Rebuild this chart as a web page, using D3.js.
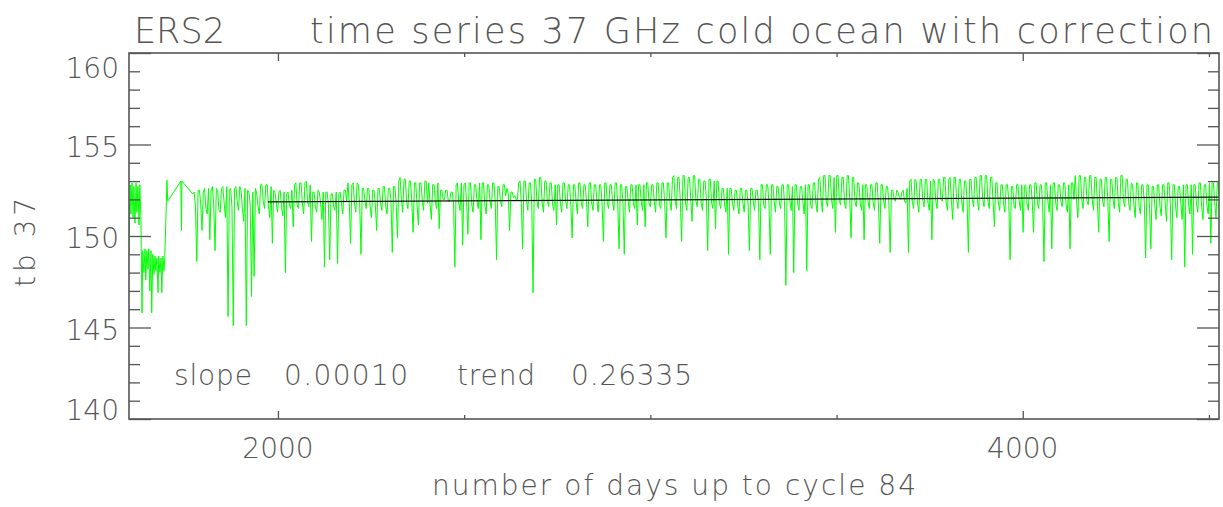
<!DOCTYPE html>
<html><head><meta charset="utf-8">
<script src="https://cdn.jsdelivr.net/npm/d3@7"></script>
<style>
html,body{margin:0;padding:0;background:#fff;}
svg{display:block;}
text{font-family:"DejaVu Sans",sans-serif;font-weight:200;fill:#555;}
</style>
</head><body>
<svg id="c" width="1223" height="507"></svg>
<script>
// ---------- data ----------
const titleLeft = "ERS2";
const titleRight = "time series 37 GHz cold ocean with correction";
const xAxisTitle = "number of days up to cycle 84";
const yAxisTitle = "tb 37";
const xDomain = [1600, 4527];
const yDomain = [140, 160];
const xMajorTicks = [2000, 4000];
const xMinorTicks = [2500, 3000, 3500, 4500];
const xTickLabels = ["2000", "4000"];
const yMajorTicks = [140, 145, 150, 155, 160];
const yMinorTicks = [141, 142, 143, 144, 146, 147, 148, 149, 151, 152, 153, 154, 156, 157, 158, 159];
const yTickLabels = ["140", "145", "150", "155", "160"];
const statLabels = ["slope", "0.00010", "trend", "0.26335"];
const trendSlope = 0.00010;
const trendIntercept = 151.67;
const trendDays = [1973, 4527];

// early, irregularly sampled part (days, tb)
const earlyDays = [1600,1603,1605,1608,1611,1613,1616,1619,1621,1624,1627,1629,1632,1633,1635,1637,1640,1643,1645,1648,1651,1653,1656,1659,1661,1664,1667,1670,1672,1675,1678,1680,1683,1686,1688,1691,1694,1696,1702,1704,1739,1741,1742,1771];
const earlyTb   = [149.0,152.8,151.2,152.9,151.0,152.7,150.7,152.9,151.3,152.7,150.6,152.8,151.0,149.3,145.8,149.2,148.0,149.3,147.6,149.2,148.2,149.3,147.0,149.2,145.8,149.0,147.9,148.9,148.1,148.8,146.9,148.9,148.0,148.8,146.9,148.9,148.1,148.8,153.05,151.9,153.0,150.3,153.0,152.3];

// main, regularly sampled part
const mainStartDay = 1775;
const mainStepDays = 3.5;
const mainTb = [
152.4,151.6,148.6,152.5,152.5,151.8,150.3,152.4,152.6,151.5,151.2,152.6,149.8,152.5,152.7,151.7,149.2,152.6,152.5,151.4,
151.3,152.6,152.7,151.8,151.0,152.7,145.6,152.5,152.6,151.6,145.1,152.6,152.7,151.9,151.4,152.7,152.5,151.5,150.8,152.6,
145.1,152.5,152.4,151.7,146.7,152.4,147.8,152.6,152.3,151.6,151.2,152.8,152.8,151.9,151.5,152.8,152.8,151.6,151.0,152.7,
149.6,152.5,152.4,151.8,151.3,152.4,152.5,151.6,151.1,152.4,148.0,152.3,152.4,151.7,151.5,152.5,150.5,152.8,152.9,151.7,
151.5,152.9,152.9,151.8,151.2,152.9,153.0,151.9,151.6,152.8,149.7,152.4,152.4,151.6,151.3,152.5,152.4,151.8,150.9,152.4,
148.3,152.4,152.4,151.7,148.7,152.3,152.3,151.6,151.4,152.4,148.5,152.3,152.4,151.8,151.2,152.5,152.5,151.9,152.9,151.8,
149.6,152.8,152.9,151.8,151.3,152.9,152.8,151.7,149.0,152.6,152.6,151.9,151.5,152.6,152.6,151.6,151.0,152.5,152.5,151.7,
150.3,152.6,152.6,151.8,151.4,152.7,152.7,151.6,151.2,152.6,152.6,151.9,149.1,152.7,152.7,151.7,149.9,153.0,153.2,152.0,
151.3,153.1,153.1,151.9,151.5,153.0,153.0,151.8,150.2,152.9,152.9,151.7,150.6,152.9,152.9,152.0,151.4,153.0,153.0,151.8,
152.9,151.7,150.9,152.8,152.8,151.9,151.5,152.9,150.4,152.5,152.5,152.0,152.0,152.5,152.5,151.9,151.9,152.4,152.4,151.8,
148.3,152.8,152.9,151.8,151.4,152.9,149.5,152.8,152.9,151.9,150.1,152.9,152.9,151.7,151.3,152.8,152.8,151.9,151.5,152.9,
149.8,152.9,152.9,151.7,151.2,152.8,152.8,151.9,151.5,152.9,152.9,151.8,148.7,152.7,152.7,151.9,151.6,152.8,152.8,152.2,
152.6,152.3,150.3,152.4,152.4,152.1,152.2,152.0,152.0,152.9,153.0,151.8,149.3,153.0,153.0,151.9,151.4,152.9,152.9,151.8,
146.9,153.1,153.1,151.9,151.5,153.2,153.2,151.8,151.3,153.0,153.0,151.9,151.6,152.9,152.9,151.7,151.4,152.8,150.6,152.8,
152.8,151.8,151.3,152.9,152.9,151.9,151.5,152.8,152.8,151.7,149.9,152.8,152.8,151.9,151.2,152.9,152.9,151.8,151.5,152.8,
152.8,151.9,150.5,152.9,152.9,151.8,151.4,152.8,152.8,151.9,151.3,152.8,152.8,151.7,149.7,152.9,152.9,151.8,151.5,152.8,
152.8,151.9,151.4,152.9,152.9,151.7,149.3,152.8,152.8,151.8,149.0,152.7,152.7,151.9,151.3,152.8,152.8,151.8,151.5,152.8,
150.6,152.8,152.8,151.9,151.4,152.8,150.5,152.9,152.9,151.8,151.6,152.8,152.8,151.9,151.3,152.9,152.9,151.7,151.5,152.9,
152.9,151.8,149.9,152.9,152.9,151.9,151.4,153.2,153.3,152.0,151.5,153.2,153.2,151.9,149.7,153.3,153.3,151.8,151.4,153.2,
153.2,152.0,150.8,153.3,153.3,151.9,151.6,153.1,153.1,151.8,151.4,153.0,153.0,152.0,149.2,153.1,153.1,151.8,151.5,153.0,
150.4,153.0,153.0,151.8,151.5,152.6,152.6,151.7,151.3,152.6,149.0,152.6,152.6,151.8,151.4,152.5,152.5,151.7,151.2,152.6,
152.6,151.8,151.3,152.5,152.5,151.7,149.2,152.6,152.6,151.9,151.4,152.5,152.5,151.8,148.7,152.8,152.8,151.7,151.5,152.8,
152.8,151.8,149.0,152.8,152.8,151.9,151.3,152.7,152.7,151.8,151.5,152.8,152.8,151.7,147.3,152.8,152.8,151.9,151.4,152.7,
148.0,152.8,152.8,151.8,151.4,152.7,152.7,151.9,151.2,152.8,148.1,152.8,152.8,151.7,151.5,152.9,152.9,151.8,151.3,153.1,
153.2,152.0,151.3,153.3,153.3,151.9,151.6,153.3,153.3,152.0,151.5,153.2,150.2,153.3,153.3,151.9,151.7,153.2,153.2,151.8,
151.5,153.3,153.3,152.0,149.9,153.2,153.2,151.9,151.6,152.9,152.9,151.8,151.4,152.8,149.8,152.8,152.8,151.9,151.5,152.8,
152.8,151.8,151.4,152.9,152.9,151.7,149.6,152.8,152.8,151.9,151.5,152.7,152.7,151.8,149.1,152.5,152.5,152.0,151.9,152.5,
152.4,152.1,152.0,152.4,152.5,151.9,151.8,152.6,149.1,153.0,153.1,151.9,151.5,153.1,153.0,151.8,151.3,153.1,153.1,152.0,
151.6,153.1,153.1,151.8,151.4,153.0,149.8,153.1,153.0,151.9,151.5,153.1,153.1,152.0,151.9,153.2,153.2,151.8,151.4,153.1,
153.2,151.9,150.9,153.2,153.2,152.0,151.5,153.1,153.1,151.8,151.3,153.0,153.0,151.9,149.1,153.1,153.1,152.0,151.6,153.2,
153.2,151.9,151.4,153.3,153.3,152.0,151.6,153.3,153.3,151.9,151.5,153.2,153.2,151.8,150.5,152.9,152.9,151.8,151.4,152.8,
152.8,151.8,151.3,152.8,152.8,151.9,148.7,152.7,152.7,151.7,151.5,152.8,152.8,151.9,151.4,152.8,150.2,152.7,152.8,151.8,
151.4,152.8,152.8,151.9,150.2,152.9,152.9,151.8,151.5,152.8,152.8,151.7,148.6,152.9,152.9,151.9,151.3,152.8,149.3,152.9,
152.9,151.8,151.4,152.8,152.8,151.9,151.6,152.9,152.9,151.7,151.3,152.8,149.3,152.9,152.9,152.0,153.3,151.9,151.0,153.3,
153.3,152.0,151.5,153.2,153.2,151.9,151.7,153.3,153.3,152.0,151.4,153.2,153.2,151.8,150.2,153.1,153.1,151.9,151.6,153.2,
153.2,151.9,149.7,153.1,153.1,152.0,151.5,153.2,153.2,151.8,151.3,153.3,153.3,151.9,151.6,153.1,153.1,151.8,151.4,152.9,
152.8,151.7,151.0,152.9,152.9,151.6,151.2,152.8,152.8,151.8,148.8,152.8,152.8,151.5,149.3,152.7,152.7,151.7,150.9,152.8,
152.8,151.6,151.1,152.8,152.8,151.8,150.8,152.9,152.9,151.7,148.7,152.8,152.8,151.6,151.0,152.7,152.7,151.8,150.9,152.8,
148.3,152.8,152.8,151.7,151.2,152.8,149.0,152.8,152.8,151.8,151.3,152.9,152.9,151.6,150.9,152.8,152.8,151.7,151.2,152.9,
149.6,152.9,152.9,151.8,151.0,152.9,152.9,151.7
];

// ---------- drawing ----------
const svg = d3.select("#c");
const plot = {left: 129, right: 1219, top: 53, bottom: 419};
const axisColor = "#555";

const x = d3.scaleLinear().domain(xDomain).range([plot.left, plot.right]);
const y = d3.scaleLinear().domain(yDomain).range([plot.bottom, plot.top]);

const points = earlyDays.map((d, i) => ({day: d, tb: earlyTb[i]}))
  .concat(mainTb.map((v, i) => ({day: mainStartDay + i * mainStepDays, tb: v})));

const clipId = "plotclip";
svg.append("clipPath").attr("id", clipId).append("rect")
  .attr("x", plot.left).attr("y", plot.top)
  .attr("width", plot.right - plot.left).attr("height", plot.bottom - plot.top);

const line = d3.line().x(d => x(d.day)).y(d => y(d.tb));
svg.append("path").datum(points)
  .attr("clip-path", `url(#${clipId})`)
  .attr("d", line).attr("fill", "none")
  .attr("stroke", "#00ff00").attr("stroke-width", 1).attr("stroke-linejoin", "miter");

// trend line
svg.append("path")
  .datum(trendDays.map(d => ({day: d, tb: trendIntercept + trendSlope * d})))
  .attr("d", line).attr("fill", "none").attr("stroke", "#111").attr("stroke-width", 1.2);

// frame
svg.append("rect").attr("x", plot.left).attr("y", plot.top)
  .attr("width", plot.right - plot.left).attr("height", plot.bottom - plot.top)
  .attr("fill", "none").attr("stroke", axisColor).attr("stroke-width", 1.6);

function drawAxis(axis, tx, ty) {
  const g = svg.append("g").attr("transform", `translate(${tx},${ty})`).call(axis);
  g.select(".domain").remove();
  g.selectAll("line").attr("stroke", axisColor).attr("stroke-width", 1.3);
  g.selectAll("text").remove();
}
drawAxis(d3.axisLeft(y).tickValues(yMajorTicks).tickSize(-22).tickFormat(""), plot.left, 0);
drawAxis(d3.axisLeft(y).tickValues(yMinorTicks).tickSize(-11).tickFormat(""), plot.left, 0);
drawAxis(d3.axisRight(y).tickValues(yMajorTicks).tickSize(-22).tickFormat(""), plot.right, 0);
drawAxis(d3.axisRight(y).tickValues(yMinorTicks).tickSize(-11).tickFormat(""), plot.right, 0);
drawAxis(d3.axisBottom(x).tickValues(xMajorTicks).tickSize(-8).tickFormat(""), 0, plot.bottom);
drawAxis(d3.axisBottom(x).tickValues(xMinorTicks).tickSize(-4).tickFormat(""), 0, plot.bottom);
drawAxis(d3.axisTop(x).tickValues(xMajorTicks).tickSize(-8).tickFormat(""), 0, plot.top);
drawAxis(d3.axisTop(x).tickValues(xMinorTicks).tickSize(-4).tickFormat(""), 0, plot.top);

// y tick labels
svg.selectAll("text.ylab").data(yMajorTicks).enter().append("text")
  .attr("class", "ylab").attr("text-anchor", "end")
  .attr("x", 119)
  .attr("y", d => Math.min(Math.max(y(d) + 12, plot.top + 25), plot.bottom + 1))
  .style("font-size", "28px")
  .text((d, i) => yTickLabels[i]);

// x tick labels
svg.selectAll("text.xlab").data(xMajorTicks).enter().append("text")
  .attr("class", "xlab").attr("text-anchor", "middle")
  .attr("x", d => x(d)).attr("y", 458)
  .style("font-size", "28px")
  .text((d, i) => xTickLabels[i]);

// titles
svg.append("text").attr("x", 134).attr("y", 43).style("font-size", "35px").text(titleLeft);
svg.append("text").attr("x", 310).attr("y", 43).style("font-size", "35px")
  .attr("textLength", 903).attr("lengthAdjust", "spacing").text(titleRight);

svg.append("text").attr("x", 432).attr("y", 495).style("font-size", "28px")
  .attr("textLength", 484).attr("lengthAdjust", "spacing").text(xAxisTitle);

svg.append("text").attr("transform", "translate(35,287) rotate(-90)")
  .style("font-size", "28px").attr("textLength", 89).attr("lengthAdjust", "spacing")
  .text(yAxisTitle);

// stats annotation
const statX = [174, 284, 457, 571];
const statW = [78, 124, 78, 121];
svg.selectAll("text.stat").data(statLabels).enter().append("text")
  .attr("class", "stat").attr("x", (d, i) => statX[i]).attr("y", 385)
  .style("font-size", "28px")
  .attr("textLength", (d, i) => statW[i]).attr("lengthAdjust", "spacing")
  .text(d => d);
</script>
</body></html>
